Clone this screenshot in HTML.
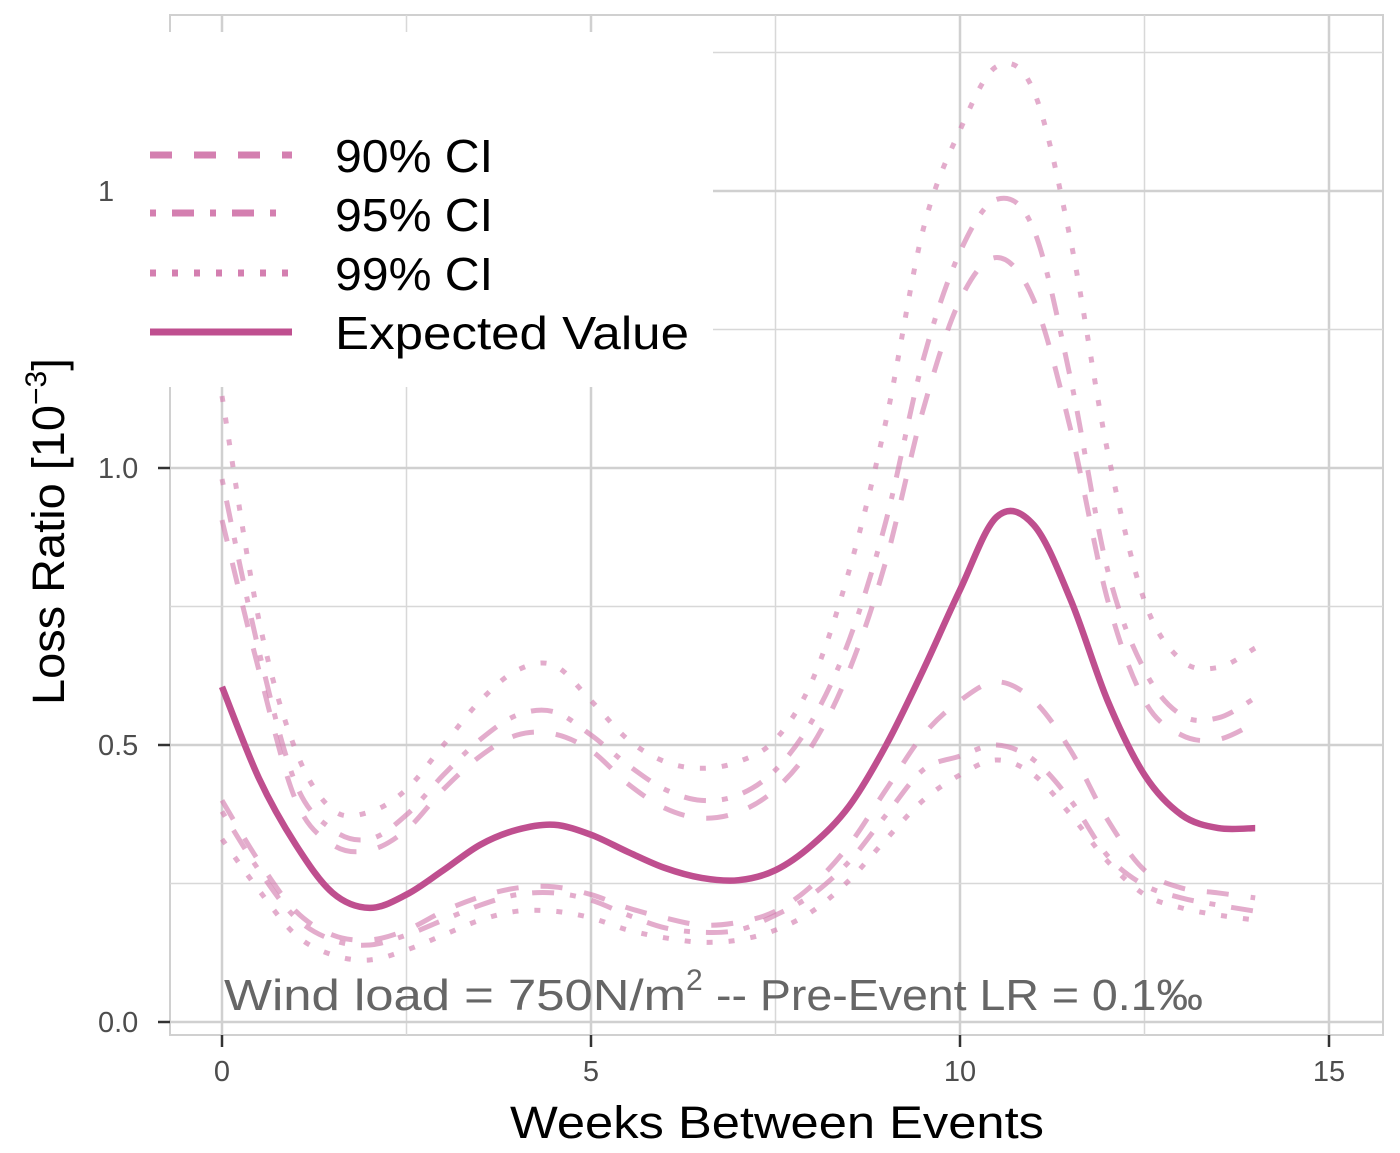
<!DOCTYPE html>
<html><head><meta charset="utf-8"><style>
html,body{margin:0;padding:0;background:#fff;}
svg{display:block;font-family:"Liberation Sans","DejaVu Sans",sans-serif;}
</style></head><body>
<svg id="chart" width="1400" height="1153" viewBox="0 0 1400 1153">
<g id="grid"></g>
<g id="series"></g>
<g id="axes"></g>
<g>
  <rect x="140" y="32" width="573" height="355" fill="#fff"/>
  <line x1="150" y1="155" x2="292" y2="155" stroke="#d47fb0" stroke-width="7" stroke-dasharray="22 22"/>
  <line x1="150" y1="213" x2="292" y2="213" stroke="#d47fb0" stroke-width="7" stroke-dasharray="6 16 22 16"/>
  <line x1="150" y1="273" x2="292" y2="273" stroke="#d47fb0" stroke-width="7" stroke-dasharray="6 16"/>
  <line x1="150" y1="332" x2="292" y2="332" stroke="#bf4f8f" stroke-width="7"/>
  <text x="335" y="172" font-size="46" fill="#000" textLength="158" lengthAdjust="spacingAndGlyphs">90% CI</text>
  <text x="335" y="231" font-size="46" fill="#000" textLength="158" lengthAdjust="spacingAndGlyphs">95% CI</text>
  <text x="335" y="290" font-size="46" fill="#000" textLength="158" lengthAdjust="spacingAndGlyphs">99% CI</text>
  <text x="335" y="349" font-size="46" fill="#000" textLength="354" lengthAdjust="spacingAndGlyphs">Expected Value</text>
</g>
<text x="224" y="1010" font-size="44" fill="#666"><tspan textLength="462" lengthAdjust="spacingAndGlyphs">Wind load = 750N/m</tspan><tspan dy="-20" font-size="30">2</tspan></text>
<text x="716" y="1010" font-size="44" fill="#666" textLength="487" lengthAdjust="spacingAndGlyphs">--  Pre-Event LR = 0.1‰</text>
<text x="510" y="1138" font-size="45" fill="#000" textLength="534" lengthAdjust="spacingAndGlyphs">Weeks Between Events</text>
<text transform="translate(64,705) rotate(-90)" font-size="45" fill="#000"><tspan textLength="300" lengthAdjust="spacingAndGlyphs">Loss Ratio [10</tspan><tspan dy="-18" font-size="30">−3</tspan><tspan dy="18">]</tspan></text>
</svg>
<script>
const xs = [0,0.5,1,1.5,2,2.5,3,3.5,4,4.5,5,5.5,6,6.5,7,7.5,8,8.5,9,9.5,10,10.5,11,11.5,12,12.5,13,13.5,14];
const expected = [0.605,0.44,0.32,0.233,0.206,0.23,0.274,0.32,0.347,0.356,0.338,0.307,0.278,0.26,0.256,0.274,0.32,0.39,0.5,0.635,0.78,0.912,0.897,0.762,0.58,0.446,0.374,0.35,0.35];
const hi99 = [1.13,0.726,0.49,0.383,0.379,0.42,0.5,0.58,0.635,0.644,0.58,0.51,0.47,0.458,0.47,0.51,0.617,0.816,1.087,1.43,1.61,1.725,1.68,1.41,1.03,0.76,0.653,0.64,0.675];
const hi95 = [0.98,0.67,0.43,0.347,0.33,0.374,0.446,0.51,0.554,0.56,0.518,0.464,0.42,0.4,0.41,0.455,0.545,0.69,0.906,1.195,1.39,1.485,1.43,1.16,0.816,0.635,0.554,0.549,0.585];
const hi90 = [0.906,0.635,0.4,0.32,0.31,0.347,0.42,0.48,0.518,0.52,0.49,0.43,0.386,0.368,0.379,0.42,0.5,0.635,0.834,1.105,1.303,1.38,1.303,1.069,0.762,0.58,0.518,0.51,0.54];
const lo90 = [0.4,0.29,0.2,0.157,0.148,0.166,0.2,0.226,0.242,0.244,0.23,0.206,0.188,0.175,0.18,0.2,0.247,0.32,0.42,0.518,0.58,0.614,0.58,0.49,0.365,0.274,0.242,0.233,0.224];
const lo95 = [0.38,0.274,0.188,0.148,0.139,0.157,0.184,0.211,0.23,0.233,0.22,0.193,0.17,0.162,0.166,0.193,0.23,0.29,0.374,0.455,0.48,0.5,0.473,0.4,0.3,0.247,0.224,0.211,0.2];
const lo99 = [0.33,0.238,0.157,0.121,0.112,0.13,0.157,0.184,0.2,0.2,0.188,0.166,0.152,0.144,0.148,0.166,0.2,0.256,0.33,0.4,0.446,0.473,0.446,0.374,0.29,0.23,0.206,0.193,0.184];
const xTicks = [0,5,10,15];
const yTicks = [0,0.5,1.0,1.5];
const yTickLabels = ["0.0","0.5","1.0","1"];

const NS="http://www.w3.org/2000/svg";
const X = v => 222 + v*73.8;
const Y = v => 1022 - v*554;
function mk(tag, attrs, parent){const e=document.createElementNS(NS,tag);for(const k in attrs)e.setAttribute(k,attrs[k]);parent.appendChild(e);return e;}
const grid=document.getElementById('grid'), series=document.getElementById('series'), axes=document.getElementById('axes');
let pb=mk('rect',{x:170,y:15,width:1213,height:1020,fill:'none',stroke:'#d0d0d0','stroke-width':2},grid);


for(let i=0;i<xTicks.length;i++){
  const v=xTicks[i];
  const g=mk('line',{x1:X(v),x2:X(v),y1:15,y2:1035,stroke:'#d0d0d0','stroke-width':2.5},grid);
  
  
  if(i<xTicks.length-1){
    const m=mk('line',{x1:X(v+2.5),x2:X(v+2.5),y1:15,y2:1035,stroke:'#d8d8d8','stroke-width':1.5},grid);
    
    
  }
  const t=mk('line',{x1:X(v),x2:X(v),y1:1035,y2:1047,stroke:'#333','stroke-width':2.5},axes);
  
  
  const l=mk('text',{x:X(v),y:1081,'font-size':29,fill:'#4d4d4d','text-anchor':'middle'},axes);
  l.textContent=v;
  
  
}
for(let i=0;i<yTicks.length;i++){
  const v=yTicks[i];
  const g=mk('line',{x1:170,x2:1383,y1:Y(v),y2:Y(v),stroke:'#d0d0d0','stroke-width':2.5},grid);
  
  
  const m=mk('line',{x1:170,x2:1383,y1:Y(v+0.25),y2:Y(v+0.25),stroke:'#d8d8d8','stroke-width':1.5},grid);
  
  
  const t=mk('line',{x1:158,x2:170,y1:Y(v),y2:Y(v),stroke:'#333','stroke-width':2.5},axes);
  
  
  const l=mk('text',{x:98,y:Y(v)+10,'font-size':29,fill:'#4d4d4d','text-anchor':'start'},axes);
  l.textContent=yTickLabels[i];
  
  
}
function pathD(vals){
  const p=xs.map((x,i)=>[X(x),Y(vals[i])]);
  let d='M'+p[0][0]+','+p[0][1];
  for(let i=0;i<p.length-1;i++){
    const p0=p[i-1]||p[i],p1=p[i],p2=p[i+1],p3=p[i+2]||p[i+1];
    const c1=[p1[0]+(p2[0]-p0[0])/6,p1[1]+(p2[1]-p0[1])/6];
    const c2=[p2[0]-(p3[0]-p1[0])/6,p2[1]-(p3[1]-p1[1])/6];
    d+=' C'+c1[0]+','+c1[1]+' '+c2[0]+','+c2[1]+' '+p2[0]+','+p2[1];
  }
  return d;
}
const ci=[[hi99,'6 16','ci99-upper'],[lo99,'6 16','ci99-lower'],[hi95,'6 16 22 16','ci95-upper'],[lo95,'6 16 22 16','ci95-lower'],[hi90,'22 22','ci90-upper'],[lo90,'22 22','ci90-lower']];
ci.forEach(c=>{
  const e=mk('path',{d:pathD(c[0]),fill:'none',stroke:'#d47fb0','stroke-opacity':0.65,'stroke-width':5,'stroke-dasharray':c[1]},series);
  
  
});
const ev=mk('path',{d:pathD(expected),fill:'none',stroke:'#bf4f8f','stroke-width':6.5},series);


</script>
</body></html>
